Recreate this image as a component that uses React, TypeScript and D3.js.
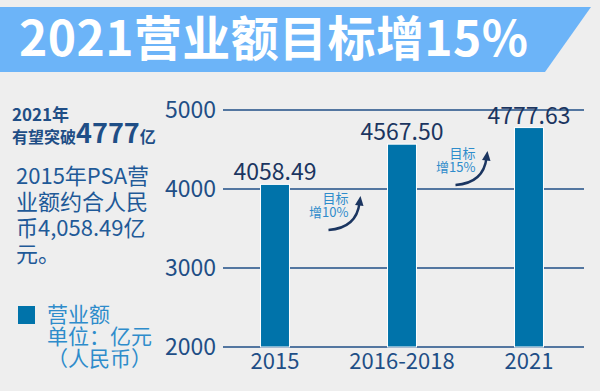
import React from "react";
import * as d3 from "d3";

const categories = ["2015", "2016-2018", "2021"];
const revenue = [4058.49, 4567.5, 4777.63];
const revenueLabels = ["4058.49", "4567.50", "4777.63"];
const yTicks = [2000, 3000, 4000, 5000];
const growthNotes = ["10%", "15%"];

const W = 600;
const H = 391;
const FONT = "'Noto Sans CJK SC', 'Noto Sans', sans-serif";
const NAVY = "#1f4e86";
const DARK = "#1b3560";
const BAR = "#0073aa";
const LIGHT = "#2e8ccb";

export default function App() {
  const x = d3
    .scaleBand<string>()
    .domain(categories)
    .range([211.5, 592.5])
    .paddingInner(0.772)
    .paddingOuter(0.386);
  const y = d3.scaleLinear().domain([2000, 5000]).range([347, 110]);
  const cx = (c: string) => (x(c) as number) + x.bandwidth() / 2;

  return (
    <svg
      width={W}
      height={H}
      style={{ position: "absolute", left: 0, top: 0, display: "block", background: "#eeeeee" }}
      fontFamily={FONT}
    >
      <rect x={0} y={0} width={W} height={H} fill="#eeeeee" />
      {/* title banner */}
      <path d="M0,7 L591,7 L545,72 L0,72 Z" fill="#6cb4f8" />
      <text
        x={19}
        y={56}
        fill="#ffffff"
        fontSize={48}
        fontWeight={700}
        textLength={509}
        lengthAdjust="spacing"
      >
        2021营业额目标增15%
      </text>

      {/* left texts */}
      <text x={12} y={121} fill={NAVY} fontSize={17} fontWeight={700}>
        2021年
      </text>
      <text x={12} y={143} fill={NAVY} fontWeight={700}>
        <tspan fontSize={16}>有望突破</tspan>
        <tspan fontSize={27}>4777</tspan>
        <tspan fontSize={16}>亿</tspan>
      </text>
      <text fill="#1f5a98" fontSize={22}>
        <tspan x={16} y={184}>2015年PSA营</tspan>
        <tspan x={16} y={210}>业额约合人民</tspan>
        <tspan x={16} y={236}>币4,058.49亿</tspan>
        <tspan x={16} y={262}>元。</tspan>
      </text>

      {/* legend */}
      <rect x={18} y={306} width={17} height={18} fill={BAR} />
      <text fill={LIGHT} fontSize={21}>
        <tspan x={47} y={322}>营业额</tspan>
        <tspan x={47} y={344}>单位：亿元</tspan>
        <tspan x={47} y={366}>（人民币）</tspan>
      </text>

      {/* grid + y axis */}
      {yTicks.map((t) => (
        <g key={t}>
          <line x1={223} x2={584} y1={y(t)} y2={y(t)} stroke={NAVY} strokeWidth={1.6} />
          <text x={216} y={y(t)} dy="0.36em" textAnchor="end" fill={NAVY} fontSize={23}>
            {t}
          </text>
        </g>
      ))}

      {/* bars */}
      {categories.map((c, i) => (
        <g key={c}>
          <rect
            x={x(c)}
            y={y(revenue[i])}
            width={x.bandwidth()}
            height={y(2000) - y(revenue[i])}
            fill={BAR}
            stroke="#ffffff"
            strokeWidth={1}
          />
          <text
            x={cx(c)}
            y={y(revenue[i]) - 4}
            textAnchor="middle"
            fill={DARK}
            fontSize={23}
          >
            {revenueLabels[i]}
          </text>
          <text x={cx(c)} y={369} textAnchor="middle" fill={NAVY} fontSize={22}>
            {c}
          </text>
        </g>
      ))}

      {/* growth annotations */}
      {growthNotes.map((g, i) => {
        const mid = (cx(categories[i]) + cx(categories[i + 1])) / 2;
        const base = i === 0 ? 0 : -45;
        const x0 = mid - 10;
        const y0 = 230 + base;
        const x1 = mid + 21;
        const y1 = 199 + base;
        return (
          <g key={g}>
            <text textAnchor="end" fill={LIGHT} fontSize={13}>
              <tspan x={mid + 10} y={203 + base}>目标</tspan>
              <tspan x={mid + 10} y={217 + base}>增{g}</tspan>
            </text>
            <path
              d={`M${x0},${y0} Q${x1 - 3},${y0 - 2} ${x1},${y1 + 4}`}
              fill="none"
              stroke={DARK}
              strokeWidth={2.4}
            />
            <path
              d={`M${x1 - 4.5},${y1 + 6} L${x1 + 1},${y1 - 3} L${x1 + 4},${y1 + 7} Z`}
              fill={DARK}
            />
          </g>
        );
      })}
    </svg>
  );
}
